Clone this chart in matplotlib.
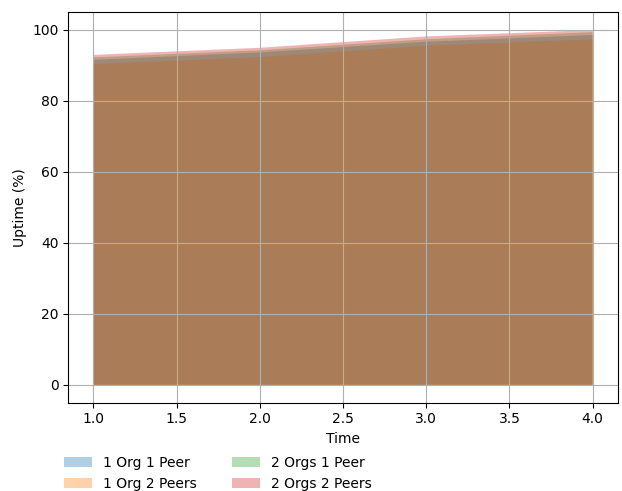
import matplotlib.pyplot as plt

# Dados
tempo = [1, 2, 3, 4]
org1_peer1 = [91.5, 93.6, 96.6, 98.5]
org1_peer2 = [90.3, 92.3, 95.5, 97.3]
orgs2_peer1 = [92.2, 94.2, 97.3, 99.3]
orgs2_peer2 = [92.9, 94.9, 98.1, 99.9]

series = [
    ("1 Org 1 Peer", org1_peer1),
    ("1 Org 2 Peers", org1_peer2),
    ("2 Orgs 1 Peer", orgs2_peer1),
    ("2 Orgs 2 Peers", orgs2_peer2),
]

fig, ax = plt.subplots(figsize=(6.22, 4.91), dpi=100)

for nome, valores in series:
    ax.fill_between(tempo, valores, alpha=0.35, label=nome)

ax.set_xlabel("Time")
ax.set_ylabel("Uptime (%)")
ax.grid(True)
ax.legend(loc="upper left", bbox_to_anchor=(-0.03, -0.105), ncol=2, frameon=False,
          columnspacing=2.5)

plt.subplots_adjust(left=0.11, right=0.993, top=0.975, bottom=0.18)
plt.savefig("out.png")
